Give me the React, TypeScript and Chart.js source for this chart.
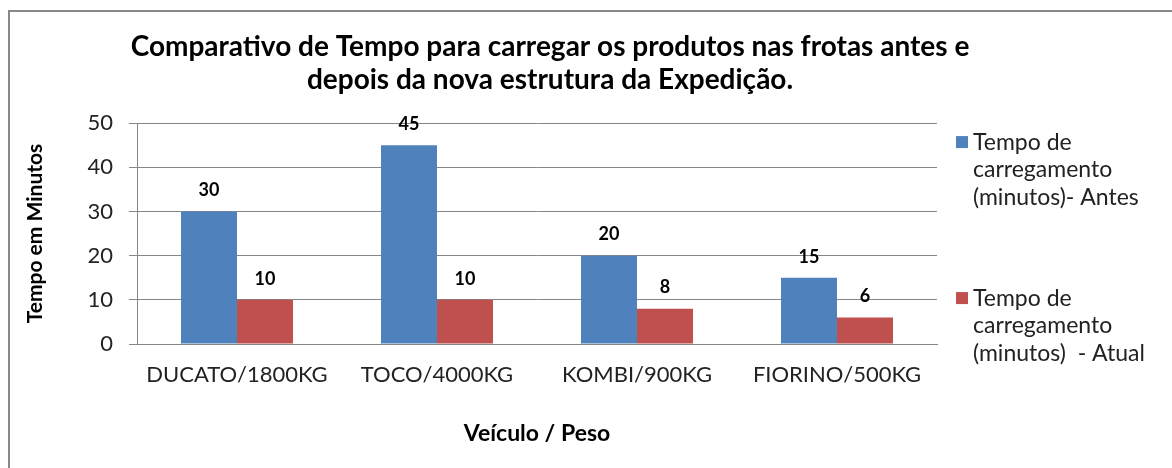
import React, { useEffect, useRef } from "react";
import { Chart, registerables } from "chart.js";

Chart.register(...registerables);

const categories = ["DUCATO/1800KG", "TOCO/4000KG", "KOMBI/900KG", "FIORINO/500KG"];
const antesValues = [30, 45, 20, 15];
const atualValues = [10, 10, 8, 6];
const seriesNames = [
  "Tempo de carregamento (minutos)- Antes",
  "Tempo de carregamento (minutos)  - Atual",
];
const legendLines = [
  ["Tempo de", "carregamento", "(minutos)- Antes"],
  ["Tempo de", "carregamento", "(minutos)  - Atual"],
];
const titleLines = [
  "Comparativo de Tempo para carregar os produtos nas frotas antes e",
  "depois da nova estrutura da Expedição.",
];
const yAxisTitle = "Tempo em Minutos";
const xAxisTitle = "Veículo / Peso";

const FONT = "Lato, 'Open Sans', sans-serif";
const BLUE = "#4F81BD";
const RED = "#C0504D";
const GRID = "#868686";

const dataLabelPlugin = {
  id: "dataLabels",
  afterDatasetsDraw(chart: any) {
    const ctx = chart.ctx;
    ctx.save();
    ctx.font = `bold 18px ${FONT}`;
    ctx.fillStyle = "#000";
    ctx.textAlign = "center";
    ctx.textBaseline = "middle";
    chart.data.datasets.forEach((ds: any, i: number) => {
      const meta = chart.getDatasetMeta(i);
      meta.data.forEach((el: any, j: number) => {
        ctx.fillText(String(ds.data[j]), el.x, el.y - 21);
      });
    });
    ctx.restore();
  },
};

const legendPlugin = {
  id: "sideLegend",
  afterDraw(chart: any) {
    const ctx = chart.ctx;
    const area = chart.chartArea;
    const offsets = [19, 175];
    ctx.save();
    ctx.font = `23px ${FONT}`;
    ctx.textBaseline = "middle";
    ctx.textAlign = "left";
    chart.data.datasets.forEach((ds: any, i: number) => {
      const y0 = area.top + offsets[i];
      ctx.fillStyle = ds.backgroundColor;
      ctx.fillRect(area.right + 19, y0 - 6, 12, 12);
      ctx.fillStyle = "#222";
      legendLines[i].forEach((line, k) => {
        ctx.fillText(line, area.right + 36, y0 + k * 27.5);
      });
    });
    ctx.restore();
  },
};

const titleShiftPlugin = {
  id: "titleShift",
  afterLayout(chart: any) {
    const tb = chart.titleBlock;
    if (tb) {
      tb.left = 100;
      tb.right = 1000;
      tb.width = 900;
    }
  },
};

export default function App() {
  const ref = useRef<HTMLCanvasElement>(null);
  useEffect(() => {
    if (!ref.current) return;
    const chart = new Chart(ref.current, {
      type: "bar",
      data: {
        labels: categories,
        datasets: [
          {
            label: seriesNames[0],
            data: antesValues,
            backgroundColor: BLUE,
            categoryPercentage: 0.56,
            barPercentage: 1.0,
          },
          {
            label: seriesNames[1],
            data: atualValues,
            backgroundColor: RED,
            categoryPercentage: 0.56,
            barPercentage: 1.0,
          },
        ],
      },
      plugins: [dataLabelPlugin, legendPlugin, titleShiftPlugin],
      options: {
        animation: false,
        responsive: false,
        maintainAspectRatio: false,
        layout: { padding: { left: 10, right: 235, top: 14, bottom: 0 } },
        plugins: {
          legend: { display: false },
          tooltip: { enabled: false },
          title: {
            display: true,
            text: titleLines,
            color: "#000",
            font: { family: FONT, size: 28, weight: "bold", lineHeight: 1.18 },
            padding: { top: 16, bottom: 27 },
          },
        },
        scales: {
          x: {
            afterFit(scale: any) {
              scale.height = 124;
            },
            grid: { display: false },
            border: { display: true, color: GRID },
            ticks: {
              color: "#222",
              font: { family: FONT, size: 22 },
              padding: 10,
              maxRotation: 0,
              autoSkip: false,
            },
            title: {
              display: true,
              text: xAxisTitle,
              color: "#000",
              font: { family: FONT, size: 23, weight: "bold", lineHeight: 1.2 },
              padding: { top: 4, bottom: 21 },
            },
          },
          y: {
            min: 0,
            max: 50,
            afterFit(scale: any) {
              scale.width = 127;
            },
            grid: { color: GRID, tickLength: 8, drawTicks: true },
            border: { display: true, color: GRID },
            ticks: {
              stepSize: 10,
              color: "#222",
              font: { family: FONT, size: 22 },
              padding: 16,
            },
            title: {
              display: true,
              text: yAxisTitle,
              color: "#000",
              font: { family: FONT, size: 21, weight: "bold", lineHeight: 1.2 },
              padding: { top: 13, bottom: 4 },
            },
          },
        },
      },
    } as any);
    return () => chart.destroy();
  }, []);

  return (
    <div style={{ position: "fixed", left: 0, top: 0, width: 1172, height: 468, background: "#fff", overflow: "hidden" }}>
      <div
        style={{
          position: "absolute",
          left: 8,
          top: 10,
          right: -20,
          bottom: -20,
          borderTop: "2px solid #888",
          borderLeft: "2px solid #888",
        }}
      />
      <canvas ref={ref} width={1172} height={468} style={{ position: "absolute", left: 0, top: 0 }} />
    </div>
  );
}
